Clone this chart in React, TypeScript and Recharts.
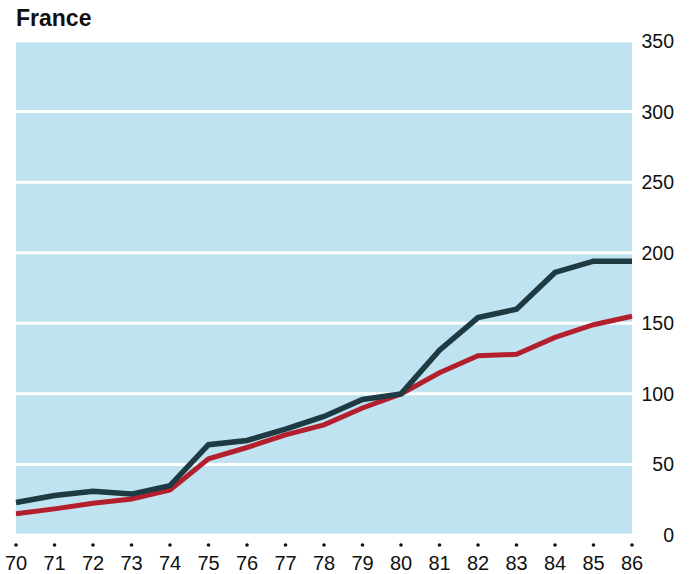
import React from 'react';
import { LineChart, Line, XAxis, YAxis, CartesianGrid } from 'recharts';

const years = ['70', '71', '72', '73', '74', '75', '76', '77', '78', '79', '80', '81', '82', '83', '84', '85', '86'];
const darkSeries = [23, 28, 31, 29, 35, 64, 67, 75, 84, 96, 100, 131, 154, 160, 186, 194, 194];
const redSeries = [15, 18.5, 22.5, 25.5, 32, 54, 62, 71, 78, 90, 100, 115, 127, 128, 140, 149, 155];
const yTicks = [0, 50, 100, 150, 200, 250, 300, 350];

const data = years.map((y, i) => ({ year: y, dark: darkSeries[i], red: redSeries[i] }));

const FONT = '"Liberation Sans", Arial, Helvetica, sans-serif';

const XTick = (props: any) => {
  const { x, payload } = props;
  return (
    <g>
      <circle cx={x} cy={545} r={1.8} fill="#111" />
      <text x={x} y={570} textAnchor="middle" fontSize={20} fontFamily={FONT} fill="#111">
        {payload.value}
      </text>
    </g>
  );
};

const YTick = (props: any) => {
  const { y, payload } = props;
  return (
    <text x={674} y={y + 7} textAnchor="end" fontSize={19.5} fontFamily={FONT} fill="#111">
      {payload.value}
    </text>
  );
};

export default function App() {
  return (
    <div style={{ position: 'absolute', left: 0, top: 0, width: 693, height: 574, background: '#fff' }}>
      <div
        style={{
          position: 'absolute',
          left: 16,
          top: 5,
          fontFamily: FONT,
          fontWeight: 700,
          fontSize: 23,
          color: '#111',
        }}
      >
        France
      </div>
      <LineChart
        width={693}
        height={574}
        data={data}
        margin={{ top: 41, right: 11, bottom: 0, left: 16 }}
      >
        <CartesianGrid
          vertical={false}
          stroke="#ffffff"
          strokeWidth={3}
          fill="#bfe3f0"
          fillOpacity={1}
        />
        <XAxis
          dataKey="year"
          axisLine={false}
          tickLine={false}
          interval={0}
          height={39}
          tick={<XTick />}
        />
        <YAxis
          orientation="right"
          domain={[0, 350]}
          ticks={yTicks}
          axisLine={false}
          tickLine={false}
          width={50}
          tick={<YTick />}
        />
        <Line
          type="linear"
          dataKey="red"
          stroke="#b41f2e"
          strokeWidth={5}
          dot={false}
          isAnimationActive={false}
          strokeLinejoin="miter"
        />
        <Line
          type="linear"
          dataKey="dark"
          stroke="#1e3a43"
          strokeWidth={5.5}
          dot={false}
          isAnimationActive={false}
          strokeLinejoin="miter"
        />
      </LineChart>
    </div>
  );
}
